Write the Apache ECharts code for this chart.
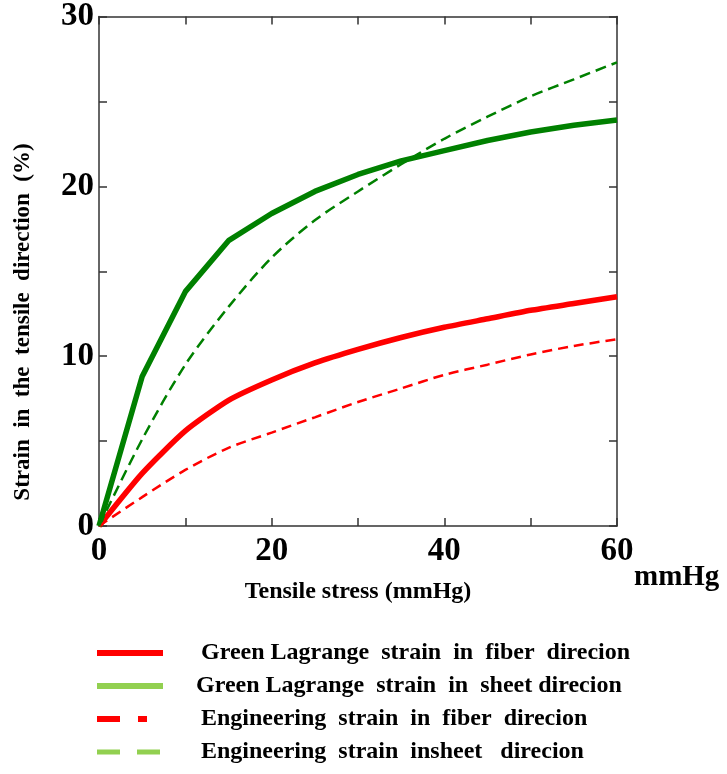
<!DOCTYPE html>
<html>
<head>
<meta charset="utf-8">
<script src="https://cdn.jsdelivr.net/npm/echarts@6/dist/echarts.min.js"></script>
<style>html,body{margin:0;padding:0;background:#fff}#c{width:727px;height:774px}</style>
</head>
<body>
<div id="c"></div>
<script>
var stress = [0, 5, 10, 15, 20, 25, 30, 35, 40, 45, 50, 55, 60];
var glFiber = [0, 3.1, 5.6, 7.4, 8.6, 9.6, 10.4, 11.1, 11.7, 12.2, 12.7, 13.1, 13.5];
var glSheet = [0, 8.8, 13.8, 16.8, 18.4, 19.7, 20.7, 21.5, 22.1, 22.7, 23.2, 23.6, 23.9];
var engFiber = [0, 1.7, 3.3, 4.6, 5.5, 6.4, 7.3, 8.1, 8.9, 9.5, 10.1, 10.6, 11.0];
var engSheet = [0, 5.1, 9.5, 12.9, 15.8, 18.0, 19.7, 21.3, 22.8, 24.1, 25.3, 26.3, 27.3];
var seriesNames = [
  'Green Lagrange  strain  in  fiber  direcion',
  'Green Lagrange  strain  in  sheet direcion',
  'Engineering  strain  in  fiber  direcion',
  'Engineering  strain  insheet   direcion'
];
var xTitle = 'Tensile stress (mmHg)';
var yTitle = 'Strain  in  the  tensile  direction  (%)';
var unitLabel = 'mmHg';

function pairs(ys){ return stress.map(function(x,i){ return [x, ys[i]]; }); }

var FONT = 'Liberation Serif';
var axisCol = '#333';
var chart = echarts.init(document.getElementById('c'));
function boxAxis(pos, min, max, interval, showLabel, step) {
  return {
    type: 'value', position: pos, min: min, max: max, interval: interval,
    axisLine: {show: true, onZero: false, lineStyle: {color: axisCol, width: 1.5}},
    axisTick: {show: true, inside: true, length: 8, lineStyle: {color: axisCol, width: 1.5}},
    splitLine: {show: false},
    axisLabel: {
      show: showLabel,
      formatter: function(v){ return v % step === 0 ? String(v) : ''; },
      fontFamily: FONT, fontWeight: 'bold', fontSize: 33, color: '#000',
      margin: pos === 'bottom' ? 9 : 5
    }
  };
}
var hideSym = {color: 'rgba(0,0,0,0)', borderColor: 'rgba(0,0,0,0)', borderWidth: 0, opacity: 0};
var option = {
  animation: false,
  backgroundColor: '#fff',
  grid: {left: 99, right: 110, top: 16, bottom: 248, containLabel: false},
  xAxis: [
    Object.assign(boxAxis('bottom', 0, 60, 10, true, 20), {
      name: xTitle, nameLocation: 'middle', nameGap: 54,
      nameTextStyle: {fontFamily: FONT, fontWeight: 'bold', fontSize: 24, color: '#000'}
    }),
    boxAxis('top', 0, 60, 10, false, 20)
  ],
  yAxis: [
    boxAxis('left', 0, 30, 5, true, 10),
    boxAxis('right', 0, 30, 5, false, 10)
  ],
  legend: {
    orient: 'vertical', left: 94, top: 641, padding: 0,
    itemWidth: 66, itemHeight: 14, itemGap: 9,
    textStyle: {fontFamily: FONT, fontWeight: 'bold', fontSize: 24, lineHeight: 24, color: '#000'},
    data: [
      {name: seriesNames[0], itemStyle: hideSym, lineStyle: {color: '#ff0000', width: 6, type: 'solid'}, textStyle: {padding: [0,0,0,33]}},
      {name: seriesNames[1], itemStyle: hideSym, lineStyle: {color: '#92d050', width: 6, type: 'solid'}, textStyle: {padding: [0,0,0,28]}},
      {name: seriesNames[2], itemStyle: hideSym, lineStyle: {color: '#ff0000', width: 6, type: [23, 18, 9, 16]}, textStyle: {padding: [0,0,0,33]}},
      {name: seriesNames[3], itemStyle: hideSym, lineStyle: {color: '#92d050', width: 5, type: [23, 17]}, textStyle: {padding: [0,0,0,33]}}
    ]
  },
  series: [
    {name: seriesNames[0], type: 'line', data: pairs(glFiber), symbol: 'none', lineStyle: {color: '#ff0000', width: 5.5}, itemStyle: {color: '#ff0000'}, smooth: 0.2},
    {name: seriesNames[1], type: 'line', data: pairs(glSheet), symbol: 'none', lineStyle: {color: '#008000', width: 5.5}, itemStyle: {color: '#008000'}, smooth: false},
    {name: seriesNames[2], type: 'line', data: pairs(engFiber), symbol: 'none', lineStyle: {color: '#ff0000', width: 2.5, type: [10, 6]}, itemStyle: {color: '#ff0000'}, smooth: 0.3},
    {name: seriesNames[3], type: 'line', data: pairs(engSheet), symbol: 'none', lineStyle: {color: '#008000', width: 2.5, type: [11, 6]}, itemStyle: {color: '#008000'}, smooth: 0.3}
  ],
  graphic: [
    {type: 'text', x: 23, y: 322, rotation: Math.PI / 2,
     style: {text: yTitle, x: 0, y: 0, align: 'center', verticalAlign: 'middle', font: 'bold 23px "Liberation Serif"', fill: '#000'}},
    {type: 'text', x: 634, y: 578,
     style: {text: unitLabel, x: 0, y: 0, align: 'left', verticalAlign: 'middle', font: 'bold 29px "Liberation Serif"', fill: '#000'}}
  ]
};
chart.setOption(option);
</script>
</body>
</html>
